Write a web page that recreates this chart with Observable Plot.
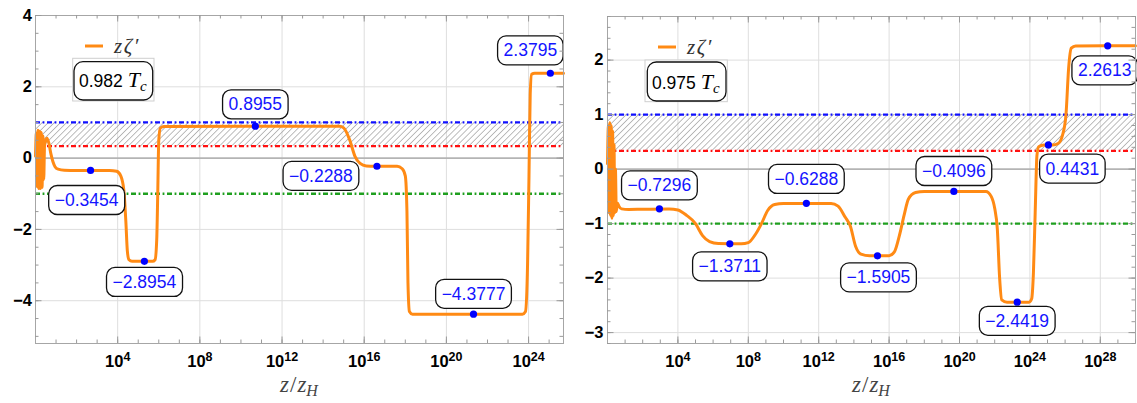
<!DOCTYPE html>
<html>
<head>
<meta charset="utf-8">
<script src="https://cdn.jsdelivr.net/npm/d3@7"></script>
<script src="https://cdn.jsdelivr.net/npm/@observablehq/plot@0.6"></script>
<style>
  body { margin: 0; background: #fff; }
  #wrap { position: relative; width: 1137px; height: 403px; overflow: hidden; }
  #wrap > svg { position: absolute; top: 0; }
  #overlay { left: 0; pointer-events: none; }
</style>
</head>
<body>
<div id="wrap">
  <svg id="overlay" width="1137" height="403">
    <defs>
      <pattern id="hatch" patternUnits="userSpaceOnUse" width="4.3" height="4.3" patternTransform="rotate(45)">
        <line x1="0" y1="0" x2="0" y2="4.3" stroke="#9a9a9a" stroke-width="1.3"></line>
      </pattern>
    </defs>
  </svg>
</div>
<script>
// ---------------- data ----------------
// curve points: [log10(z/zH), z*zeta']
const leftCurve = [
  [0,0.05],[0.04,0.7],[0.08,-0.8],[0.12,0.78],[0.16,-0.85],[0.2,0.75],[0.24,-0.85],[0.28,0.72],
  [0.32,-0.82],[0.36,0.62],[0.4,-0.6],[0.44,0.35],[0.5,0.5],[0.56,0.56],[0.65,0.42],[0.75,0.12],
  [0.85,-0.1],[0.95,-0.24],[1.1,-0.31],[1.4,-0.34],[2.0,-0.345],[3.6,-0.345],[3.95,-0.37],[4.15,-0.5],
  [4.3,-0.9],[4.4,-1.8],[4.47,-2.6],[4.55,-2.85],[4.7,-2.895],[5.7,-2.895],[5.82,-2.85],[5.9,-2.3],
  [5.95,-1.0],[6.0,0.5],[6.08,0.85],[6.25,0.89],[14.8,0.8955],[15.0,0.85],[15.3,0.5],[15.55,0.05],
  [15.8,-0.15],[16.1,-0.22],[16.5,-0.2288],[17.6,-0.2288],[17.85,-0.3],[18.0,-0.5],[18.08,-1.5],
  [18.13,-3.5],[18.2,-4.3],[18.35,-4.377],[23.7,-4.377],[23.85,-4.3],[23.95,-3.0],[24.02,-0.5],
  [24.08,1.8],[24.15,2.35],[24.3,2.3795],[25.7,2.3795]
];
const rightCurve = [
  [0,0.1],[0.05,0.8],[0.09,-0.8],[0.13,0.85],[0.17,-0.85],[0.21,0.8],[0.25,-0.9],[0.29,0.7],
  [0.33,-0.85],[0.37,0.45],[0.41,-0.8],[0.45,0.0],[0.5,-0.78],[0.56,-0.62],[0.65,-0.68],[0.8,-0.73],
  [1.2,-0.74],[2.0,-0.735],[3.5,-0.73],[4.0,-0.75],[4.5,-0.85],[5.0,-1.0],[5.4,-1.22],[5.8,-1.33],
  [6.3,-1.365],[7.6,-1.371],[8.0,-1.35],[8.4,-1.2],[8.75,-1.0],[9.1,-0.76],[9.5,-0.65],[10.0,-0.632],
  [12.7,-0.629],[13.1,-0.68],[13.5,-0.88],[13.8,-1.05],[14.1,-1.42],[14.4,-1.56],[14.9,-1.59],
  [16.0,-1.59],[16.3,-1.52],[16.6,-1.2],[16.85,-0.85],[17.1,-0.55],[17.5,-0.43],[18.0,-0.41],
  [21.5,-0.41],[21.8,-0.5],[22.0,-0.72],[22.15,-1.1],[22.28,-2.0],[22.4,-2.4],[22.7,-2.442],
  [23.95,-2.442],[24.1,-2.38],[24.2,-1.9],[24.3,-0.8],[24.4,0.25],[24.5,0.41],[24.8,0.44],
  [25.3,0.443],[25.6,0.47],[25.85,0.62],[26.05,1.0],[26.2,1.85],[26.35,2.22],[26.6,2.261],[30,2.2613]
];
// marked plateau points
const leftDotLz  = [2.68, 5.3, 10.7, 16.62, 21.32, 25.06];
const leftDotVal = [-0.3454, -2.8954, 0.8955, -0.2288, -4.3777, 2.3795];
const rightDotLz  = [2.95, 6.95, 11.3, 15.34, 19.68, 23.28, 25.05, 28.42];
const rightDotVal = [-0.7296, -1.3711, -0.6288, -1.5905, -0.4096, -2.4419, 0.4431, 2.2613];
// reference lines and band
const refValues = [1, 1/3, -1];
const band = [1/3, 1];
// temperatures
const temps = ["0.982", "0.975"];
// ticks
const leftXTickExp = [4, 8, 12, 16, 20, 24];
const rightXTickExp = [4, 8, 12, 16, 20, 24, 28];
const leftYTicks = [-4, -2, 0, 2, 4];
const rightYTicks = [-3, -2, -1, 0, 1, 2];

// ---------------- styles / layout ----------------
const H = 403;
const ORANGE = "#ff8a14";
const LABEL_BLUE = "#1414ff";
const refColors = ["#1010ff", "#ff1010", "#1f9f1f"];
const leftOffsets  = [[-4, 30], [0, 21], [0, -21.5], [-56, 10], [0, -20], [-20, -22.5]];
const rightOffsets = [[0, -23], [0, 23], [0, -24], [1, 22], [0, -20], [0, 19], [24, 24], [-3, 25]];
const NS = "http://www.w3.org/2000/svg";

function fmt(v) { return (v < 0 ? "\u2212" : "") + Math.abs(v).toFixed(4); }
function fmtInt(v) { return (v < 0 ? "\u2212" : "") + Math.abs(v); }

function makePanel(o) {
  const innerW = o.width - o.mL - o.mR, innerH = H - o.mT - o.mB;
  const xMax = 10 ** o.lzMax;
  const curve = o.curve.map(([lz, v]) => ({x: 10 ** lz, y: v}));
  const dots = o.dotLz.map((lz, i) => ({x: 10 ** lz, y: o.dotVal[i], label: fmt(o.dotVal[i])}));
  const xMinor = d3.range(1, Math.floor(o.lzMax) + 1).map(e => 10 ** e);
  const xMajor = o.xTickExp.map(e => 10 ** e);
  const yMinor = d3.range(Math.ceil(o.yDomain[0] / o.yStep - 1e-9), Math.floor(o.yDomain[1] / o.yStep + 1e-9) + 1)
    .map(k => +(k * o.yStep).toFixed(6));
  const tickStroke = "#9a9a9a";
  const marks = [
    Plot.ruleX(xMajor, {x: d => d, stroke: "#dedede", strokeWidth: 1}),
    Plot.ruleY(o.yTicks.filter(v => v !== 0), {y: d => d, stroke: "#dedede", strokeWidth: 1}),
    Plot.ruleY([0], {y: d => d, stroke: "#b4b4b4", strokeWidth: 1.6}),
    Plot.rect([{x1: 1, x2: xMax, y1: band[0], y2: band[1]}], {x1: "x1", x2: "x2", y1: "y1", y2: "y2", fill: "url(#hatch)"}),
    ...refValues.map((v, i) => Plot.ruleY([v], {y: d => d, stroke: refColors[i], strokeWidth: 2.3, strokeDasharray: "5,2.6,1.8,2.6"})),
    Plot.line(curve, {x: "x", y: "y", stroke: ORANGE, strokeWidth: 3, curve: "monotone-x"}),
    Plot.dot(dots, {x: "x", y: "y", r: 3.6, fill: "#0000ff", stroke: "none"}),
    ...dots.map((d, i) => Plot.text([d], {x: "x", y: "y", text: "label", dx: o.offsets[i][0], dy: o.offsets[i][1],
      fill: LABEL_BLUE, fontSize: 17.5, fontWeight: "normal", ariaLabel: "value-label"})),
    Plot.frame({stroke: "#a6a6a6", strokeWidth: 1}),
    Plot.tickX(xMinor, {x: d => d, insetTop: innerH - 3.5, stroke: tickStroke}),
    Plot.tickX(xMinor, {x: d => d, insetBottom: innerH - 3.5, stroke: tickStroke}),
    Plot.tickX(xMajor, {x: d => d, insetTop: innerH - 6.5, stroke: tickStroke}),
    Plot.tickX(xMajor, {x: d => d, insetBottom: innerH - 6.5, stroke: tickStroke}),
    Plot.tickY(yMinor, {y: d => d, insetRight: innerW - 3.5, stroke: tickStroke}),
    Plot.tickY(yMinor, {y: d => d, insetLeft: innerW - 3.5, stroke: tickStroke}),
    Plot.tickY(o.yTicks, {y: d => d, insetRight: innerW - 6.5, stroke: tickStroke}),
    Plot.tickY(o.yTicks, {y: d => d, insetLeft: innerW - 6.5, stroke: tickStroke}),
    Plot.axisX({ticks: xMajor, tickSize: 0, tickPadding: 12, label: null,
      tickFormat: d => "10^" + Math.round(Math.log10(d)), fontWeight: "bold", fontSize: 16.5}),
    Plot.axisY({ticks: o.yTicks, tickSize: 0, tickPadding: o.yPad, label: null, tickFormat: fmtInt,
      fontWeight: "bold", fontSize: 16.5})
  ];
  const svg = Plot.plot({
    width: o.width, height: H,
    marginLeft: o.mL, marginRight: o.mR, marginTop: o.mT, marginBottom: o.mB,
    x: {type: "log", domain: [1, xMax], label: null},
    y: {domain: o.yDomain, label: null},
    style: {fontFamily: "'Liberation Sans', Arial, sans-serif", fontSize: "16px", fontWeight: "bold",
            background: "transparent", color: "#000", overflow: "visible"},
    marks
  });
  svg.style.left = o.left + "px";
  return svg;
}

const wrap = document.getElementById("wrap");
const overlay = document.getElementById("overlay");

const left = makePanel({
  left: 0, width: 570, mL: 35, mR: 7, mT: 15, mB: 60, yPad: 3.5,
  lzMax: 25.7, yDomain: [-5.2, 4], yStep: 0.5, yTicks: leftYTicks, xTickExp: leftXTickExp,
  curve: leftCurve, dotLz: leftDotLz, dotVal: leftDotVal, offsets: leftOffsets
});
const right = makePanel({
  left: 570, width: 567, mL: 37, mR: 2, mT: 16, mB: 60, yPad: 4,
  lzMax: 30, yDomain: [-3.2, 2.8], yStep: 0.2, yTicks: rightYTicks, xTickExp: rightXTickExp,
  curve: rightCurve, dotLz: rightDotLz, dotVal: rightDotVal, offsets: rightOffsets
});
wrap.insertBefore(left, overlay);
wrap.insertBefore(right, overlay);

// post-process: superscript exponents and rounded boxes behind value labels
for (const svg of [left, right]) {
  svg.querySelectorAll("text").forEach(t => {
    const s = t.textContent;
    if (s.includes("^") && t.children.length === 0) {
      const [b, e] = s.split("^");
      t.textContent = b;
      const ts = document.createElementNS(NS, "tspan");
      ts.setAttribute("dy", "-6");
      ts.setAttribute("font-size", "12.5");
      ts.textContent = e;
      t.appendChild(ts);
    }
  });
  const labelTexts = Array.from(svg.querySelectorAll("text")).filter(t => {
    const g = t.parentNode;
    return g && (g.getAttribute("fill") === LABEL_BLUE || g.getAttribute("aria-label") === "value-label" ||
      t.getAttribute("fill") === LABEL_BLUE);
  });
  labelTexts.forEach(t => {
    const bb = t.getBBox();
    const r = document.createElementNS(NS, "rect");
    const cy = bb.y + bb.height / 2;
    r.setAttribute("x", bb.x - 6);
    r.setAttribute("y", cy - 14.5);
    r.setAttribute("width", bb.width + 12);
    r.setAttribute("height", 29);
    r.setAttribute("rx", 8.5);
    r.setAttribute("fill", "#fff");
    r.setAttribute("stroke", "#111");
    r.setAttribute("stroke-width", 1.3);
    if (t.getAttribute("transform")) r.setAttribute("transform", t.getAttribute("transform"));
    t.parentNode.insertBefore(r, t);
  });
}

// overlay: legends, temperature boxes, axis labels
function el(tag, attrs, parent, text) {
  const e = document.createElementNS(NS, tag);
  for (const k in attrs) e.setAttribute(k, attrs[k]);
  if (text != null) e.textContent = text;
  (parent || overlay).appendChild(e);
  return e;
}
const legendLayout = [
  {lx: 85, ly: 46, tx: 114, ty: 53, gray: [72.7, 58.3, 81.3, 42.7], box: [74, 61.7, 78.7, 38.3], nx: 79, ny: 87, axisCx: 299},
  {lx: 658, ly: 47, tx: 687, ty: 54, gray: [645, 60, 82.3, 41.7], box: [647.3, 62, 78.7, 39], nx: 652, ny: 88.5, axisCx: 871}
];
legendLayout.forEach((L, i) => {
  el("line", {x1: L.lx, x2: L.lx + 18, y1: L.ly, y2: L.ly, stroke: ORANGE, "stroke-width": 3});
  el("text", {x: L.tx, y: L.ty, "font-family": "'Liberation Serif', 'Times New Roman', serif", "font-style": "italic",
    "font-size": 21, "letter-spacing": 1.5, fill: "#333"}, null, "z\u03B6\u2032");
  el("rect", {x: L.gray[0], y: L.gray[1], width: L.gray[2], height: L.gray[3], fill: "#fff", stroke: "#cfcfcf", "stroke-width": 1});
  el("rect", {x: L.box[0], y: L.box[1], width: L.box[2], height: L.box[3], rx: 9, fill: "#fff", stroke: "#111", "stroke-width": 1.3});
  const t = el("text", {x: L.nx, y: L.ny, "font-family": "'Liberation Sans', Arial, sans-serif", "font-size": 17.5, fill: "#000"});
  t.appendChild(document.createTextNode(temps[i] + " "));
  el("tspan", {"font-family": "'Liberation Serif', 'Times New Roman', serif", "font-style": "italic", "font-size": 22}, t, "T");
  el("tspan", {"font-family": "'Liberation Serif', 'Times New Roman', serif", "font-style": "italic", "font-size": 15, dy: 4}, t, "c");
  // axis label z / z_H
  const a = el("text", {x: L.axisCx, y: 392, "text-anchor": "middle", "font-family": "'Liberation Serif', 'Times New Roman', serif",
    "font-size": 23, fill: "#444"});
  el("tspan", {"font-style": "italic"}, a, "z");
  el("tspan", {dx: 1}, a, "/");
  el("tspan", {"font-style": "italic", dx: 1}, a, "z");
  el("tspan", {"font-style": "italic", "font-size": 16, dy: 4}, a, "H");
});
</script>
</body>
</html>
